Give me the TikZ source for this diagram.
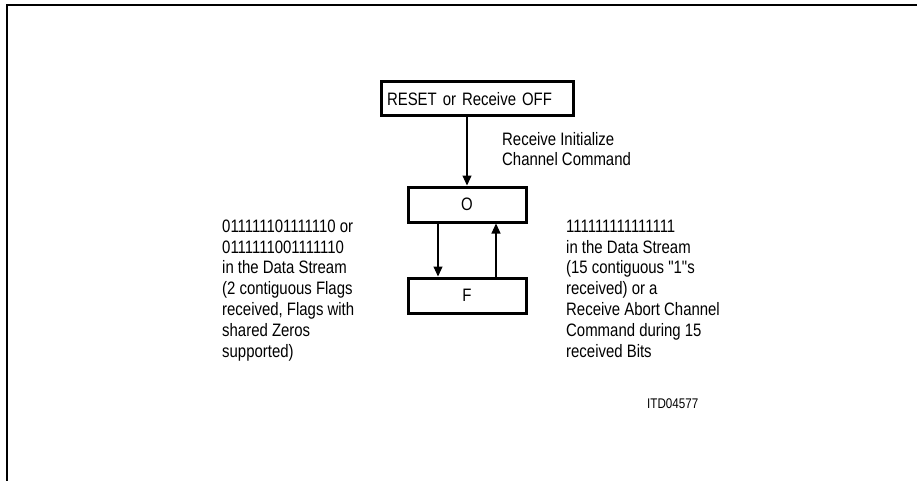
\documentclass[tikz,border=0pt]{standalone}
\usepackage{fontspec}
\setmainfont{Liberation Sans}[FakeStretch=0.83, Ligatures=TeXOff]
\usetikzlibrary{arrows.meta,positioning}

\begin{document}
\begin{tikzpicture}[x=1pt, y=-1pt,
    statebox/.style = {draw, line width=3pt, minimum width=118pt, minimum height=35pt,
                       inner sep=0pt, font=\fontsize{18}{21}\selectfont},
    note/.style = {align=left, inner sep=0pt, anchor=base west,
                   font=\fontsize{18}{20.8}\selectfont},
    tip/.style = {line width=1.1pt, -{Triangle[length=10pt, width=9pt]}}]
                \useasboundingbox (0,0) rectangle (917,481);
                % frame
                \path[draw, line width=1.6pt](7,481)--(7,5)--(917,5);

                \node[statebox, minimum width=192pt, minimum height=34pt,
                      text width=180pt, align=left](reset)at(477,99){RESET or Receive OFF};
                \node[statebox](O)at(467,204.5){O};
                \node[statebox](F)at(467,295.5){F};

                \coordinate(resetout)at(467,116);
                \path[draw, tip](resetout)to(O.north);
                \path[draw, tip]([xshift=-29pt]O.south)to([xshift=-29pt]F.north);
                \path[draw, tip]([xshift=29pt]F.north)to([xshift=29pt]O.south);

                % multi-line notes sit on the baseline of their last line
                \node[note](init)at(502,166){Receive Initialize\\Channel Command};
                \node[note](flags)at(222,357){011111101111110 or\\0111111001111110\\in the Data Stream\\(2 contiguous Flags\\received, Flags with\\shared Zeros\\supported)};
                \node[note](ones)at(566,357){111111111111111\\in the Data Stream\\(15 contiguous "1"s\\received) or a\\Receive Abort Channel\\Command during 15\\received Bits};
                \node[inner sep=0pt, anchor=base west, font=\fontsize{14}{16}\selectfont](id)at(647,408){ITD04577};
            \end{tikzpicture}
\end{document}
